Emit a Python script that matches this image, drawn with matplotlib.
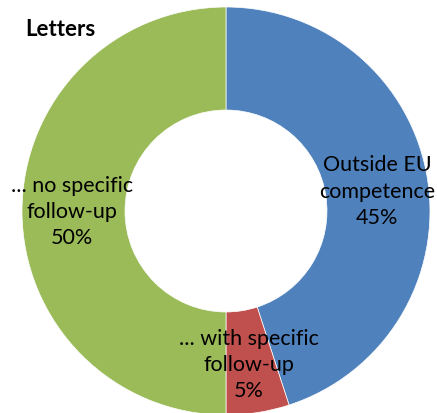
import matplotlib
matplotlib.use("Agg")
import matplotlib.pyplot as plt

# Share of letters by follow-up category
categories = ["Outside EU\ncompetence", "... with specific\nfollow-up", "... no specific\nfollow-up"]
shares = [45, 5, 50]
colors = ["#4F81BD", "#C0504D", "#9BBB59"]
title = "Letters"

plt.rcParams["font.family"] = ["Lato", "DejaVu Sans"]

fig = plt.figure(figsize=(4.37, 4.14), dpi=100)
ax = fig.add_axes([0, 0, 1, 1])

wedges, _ = ax.pie(
    shares,
    colors=colors,
    startangle=90,
    counterclock=False,
    radius=1.0,
    wedgeprops=dict(width=0.505, edgecolor="white", linewidth=0.5),
)

# label positions (data coords, centre of the text block)
label_pos = [(0.74, 0.10), (0.11, -0.75), (-0.755, 0.0)]
for (x, y), cat, val in zip(label_pos, categories, shares):
    ax.text(x, y, f"{cat}\n{val}%", ha="center", va="center",
            fontsize=15.5, color="black", linespacing=1.4)

ax.set_xlim(-226 / 204, (437 - 226) / 204)
ax.set_ylim(-(414 - 212) / 204, 212 / 204)
ax.set_aspect("equal")
ax.axis("off")

fig.text(25 / 437, 1 - 29 / 414, title, fontsize=16, fontweight="bold",
         ha="left", va="center")

fig.savefig("out.png", dpi=100)
